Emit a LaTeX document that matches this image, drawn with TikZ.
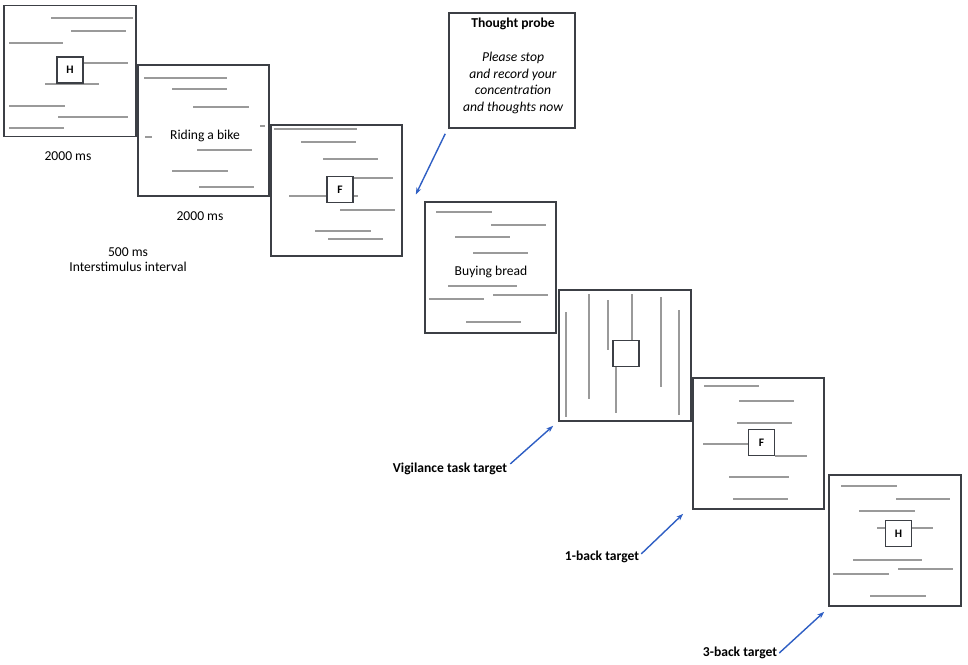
\documentclass[tikz,border=0pt]{standalone}
\usepackage{fontspec}
\setmainfont{Carlito}
\usetikzlibrary{arrows.meta}
\definecolor{frame}{HTML}{3C3F45}
\definecolor{glin}{HTML}{9A9A9A}
\definecolor{arr}{HTML}{2F5FC4}
\tikzset{
  panel/.style={draw=frame, line width=1.6pt, fill=white, minimum width=131pt, minimum height=131pt, inner sep=0pt},
  letterbox/.style={draw=frame, line width=1.3pt, fill=white, minimum size=26pt, inner sep=0pt, font=\fontsize{11.5}{13}\selectfont\bfseries},
  gl/.style={draw=glin, line width=1.2pt},
  lbl/.style={font=\fontsize{13.6}{15}\selectfont, align=center, inner sep=1pt},
  blab/.style={font=\fontsize{13.6}{15}\selectfont\bfseries, inner sep=1pt},
  pointer/.style={draw=arr, line width=1.4pt, -{Stealth[length=7pt,width=5pt]}}
}
\begin{document}
\begin{tikzpicture}[x=1pt,y=-1pt]
\useasboundingbox[fill=white] (0,0) rectangle (968,664);

% ---------- panel 1 ----------
\node[panel, minimum width=132pt] (p1) at (70,71) {};
\draw[gl] (51,18) -- (133,18);
\draw[gl] (71,31) -- (126,31);
\draw[gl] (9,43) -- (63,43);
\draw[gl] (84,63) -- (128,63);
\draw[gl] (45,84) -- (99,84);
\draw[gl] (9,106) -- (65,106);
\draw[gl] (58,117) -- (128,117);
\draw[gl] (9,128) -- (64,128);
\node[letterbox] (h1) at (70,70) {H};
\node[lbl] (t1) at (68,156) {2000 ms};

% ---------- panel 2 ----------
\node[panel] (p2) at (203.5,130.5) {};
\draw[gl] (144,78) -- (227,78);
\draw[gl] (172,89) -- (227,89);
\draw[gl] (193,107) -- (249,107);
\draw[gl] (260,126) -- (265,126);
\draw[gl] (145,137) -- (152,137);
\draw[gl] (197,150) -- (252,150);
\draw[gl] (172,171) -- (228,171);
\draw[gl] (199,187) -- (254,187);
\node[lbl] (w1) at (205,136) {Riding a bike};
\node[lbl] (t2) at (200,216) {2000 ms};
\node[lbl] (t3) at (128,259.5) {500 ms\\Interstimulus interval};

% ---------- panel 3 ----------
\node[panel] (p3) at (336.5,190.5) {};
\draw[gl] (274,129) -- (357,129);
\draw[gl] (301,142) -- (356,142);
\draw[gl] (323,159) -- (378,159);
\draw[gl] (353,178) -- (393,178);
\draw[gl] (289,196) -- (358,196);
\draw[gl] (340,210) -- (395,210);
\draw[gl] (315,231) -- (371,231);
\draw[gl] (328,239) -- (383,239);
\node[letterbox] (f1) at (340,189.5) {F};

% ---------- thought probe ----------
\node[draw=frame, line width=1.6pt, fill=white, minimum width=126pt, minimum height=115pt, inner sep=0pt] (probe) at (512,70.5) {};
\node[blab] (pt) at (513,24) {Thought probe};
\node[lbl, font=\fontsize{13.6}{16.7}\selectfont\itshape] (pq) at (513,83) {Please stop\\and record your\\concentration\\and thoughts now};

% ---------- panel 4 ----------
\node[panel] (p4) at (490.5,267.5) {};
\draw[gl] (436,212) -- (492,212);
\draw[gl] (491,225) -- (546,225);
\draw[gl] (455,237) -- (510,237);
\draw[gl] (473,253) -- (528,253);
\draw[gl] (448,286) -- (517,286);
\draw[gl] (493,295) -- (548,295);
\draw[gl] (429,299) -- (484,299);
\draw[gl] (466,322) -- (521,322);
\node[lbl] (w2) at (491,272) {Buying bread};

% ---------- panel 5 ----------
\node[panel, minimum width=132pt] (p5) at (625,355.5) {};
\draw[gl] (566,312) -- (566,417);
\draw[gl] (589,294) -- (589,399);
\draw[gl] (608,300) -- (608,350);
\draw[gl] (632,294) -- (632,340);
\draw[gl] (616,367) -- (616,413);
\draw[gl] (661,297) -- (661,387);
\draw[gl] (679,310) -- (679,415);
\node[letterbox] (e1) at (626,353.5) {};

% ---------- panel 6 ----------
\node[panel] (p6) at (758.5,443.5) {};
\draw[gl] (704,386) -- (759,386);
\draw[gl] (739,401) -- (794,401);
\draw[gl] (737,423) -- (792,423);
\draw[gl] (703,444) -- (748,444);
\draw[gl] (775,456) -- (807,456);
\draw[gl] (729,477) -- (789,477);
\draw[gl] (733,499) -- (788,499);
\node[letterbox] (f2) at (761.5,442.5) {F};

% ---------- panel 7 ----------
\node[panel, minimum width=132pt] (p7) at (895,540.5) {};
\draw[gl] (841,486) -- (897,486);
\draw[gl] (896,499) -- (950,499);
\draw[gl] (859,511) -- (915,511);
\draw[gl] (877,528) -- (933,528);
\draw[gl] (853,560) -- (922,560);
\draw[gl] (898,569) -- (953,569);
\draw[gl] (833,574) -- (889,574);
\draw[gl] (870,596) -- (926,596);
\node[letterbox] (h2) at (898.5,533.5) {H};

% ---------- target labels ----------
\node[blab] (vig) at (450,469) {Vigilance task target};
\node[blab] (one) at (602,557) {1-back target};
\node[blab] (three) at (740,653) {3-back target};

% ---------- arrows ----------
\draw[pointer] ([shift={(-3,5)}]probe.south west) -- ([shift={(13,4)}]p3.east);
\draw[pointer] ([shift={(2,2)}]vig.north east) -- ([shift={(-5,4)}]p5.south west);
\draw[pointer] ([shift={(1,4)}]one.north east) -- ([shift={(-9,4)}]p6.south west);
\draw[pointer] ([shift={(1,0)}]three.east) -- ([shift={(-4,5)}]p7.south west);
\end{tikzpicture}
\end{document}
